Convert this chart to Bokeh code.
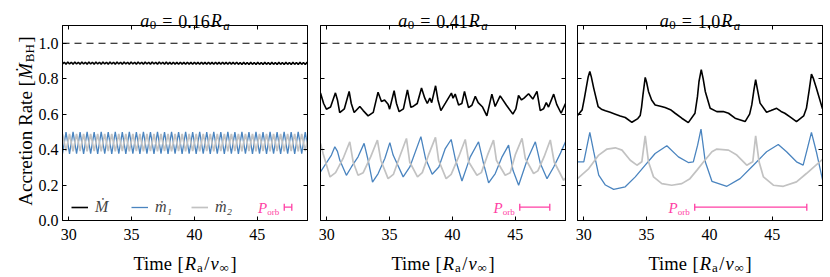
import math
import numpy as np
from bokeh.plotting import figure
from bokeh.layouts import row
from bokeh.models import (Range1d, LinearAxis, Span, Label, Whisker, TeeHead,
                          ColumnDataSource, FixedTicker, Legend, LegendItem)
from bokeh.core.properties import value
from bokeh.embed import file_html
from bokeh.resources import INLINE

# ------------------------------------------------------------------ data
a0_labels = ["0.16", "0.41", "1.0"]
x_ticks = [30, 35, 40, 45]
y_ticks = [0.0, 0.2, 0.4, 0.6, 0.8, 1.0]
y_tick_labels = ["0.0", "0.2", "0.4", "0.6", "0.8", "1.0"]
mdot_bh_ref = 1.0
legend_labels = ["\u1E40", "\u1E41\u2081", "\u1E41\u2082"]

# orbital period bars (start, end) and height
porb_start = [47.15, 45.36, 38.83]
porb_end = [47.75, 47.75, 47.75]
porb_y = 0.075

# ---- panel 1 (a0 = 0.16 Ra): regular sample grid
t1_m = np.round(29.5 + 0.28 * np.arange(71), 3)
t1_M = np.round(29.5 + 0.14 * np.arange(141), 3)
m1_p1 = [
    0.377, 0.499, 0.376, 0.500, 0.377, 0.499, 0.376, 0.500, 0.377, 0.499,
    0.376, 0.500, 0.377, 0.499, 0.376, 0.500, 0.377, 0.499, 0.376, 0.500,
    0.377, 0.499, 0.376, 0.500, 0.377, 0.499, 0.376, 0.500, 0.377, 0.499,
    0.376, 0.500, 0.377, 0.499, 0.376, 0.500, 0.377, 0.499, 0.376, 0.500,
    0.377, 0.499, 0.376, 0.500, 0.377, 0.499, 0.376, 0.500, 0.377, 0.499,
    0.376, 0.500, 0.377, 0.499, 0.376, 0.500, 0.377, 0.499, 0.376, 0.500,
    0.377, 0.499, 0.376, 0.500, 0.377, 0.499, 0.376, 0.500, 0.377, 0.499,
    0.376]
m2_p1 = [
    0.489, 0.391, 0.488, 0.390, 0.489, 0.391, 0.488, 0.390, 0.489, 0.391,
    0.488, 0.390, 0.489, 0.391, 0.488, 0.390, 0.489, 0.391, 0.488, 0.390,
    0.489, 0.391, 0.488, 0.390, 0.489, 0.391, 0.488, 0.390, 0.489, 0.391,
    0.488, 0.390, 0.489, 0.391, 0.488, 0.390, 0.489, 0.391, 0.488, 0.390,
    0.489, 0.391, 0.488, 0.390, 0.489, 0.391, 0.488, 0.390, 0.489, 0.391,
    0.488, 0.390, 0.489, 0.391, 0.488, 0.390, 0.489, 0.391, 0.488, 0.390,
    0.489, 0.391, 0.488, 0.390, 0.489, 0.391, 0.488, 0.390, 0.489, 0.391,
    0.488]
mdot_p1 = [
    0.883, 0.893, 0.882, 0.894, 0.883, 0.893, 0.882, 0.894, 0.883, 0.893,
    0.882, 0.894, 0.883, 0.893, 0.882, 0.894, 0.883, 0.893, 0.882, 0.894,
    0.883, 0.893, 0.882, 0.894, 0.883, 0.893, 0.882, 0.894, 0.883, 0.893,
    0.882, 0.894, 0.883, 0.893, 0.882, 0.894, 0.883, 0.893, 0.882, 0.894,
    0.883, 0.893, 0.882, 0.894, 0.883, 0.893, 0.882, 0.894, 0.883, 0.893,
    0.882, 0.894, 0.883, 0.893, 0.882, 0.894, 0.883, 0.893, 0.882, 0.894,
    0.882, 0.892, 0.881, 0.893, 0.882, 0.892, 0.881, 0.893, 0.882, 0.892,
    0.881, 0.893, 0.882, 0.892, 0.881, 0.893, 0.882, 0.892, 0.881, 0.893,
    0.882, 0.892, 0.881, 0.893, 0.882, 0.892, 0.881, 0.893, 0.882, 0.892,
    0.881, 0.893, 0.882, 0.892, 0.881, 0.893, 0.882, 0.892, 0.881, 0.893,
    0.881, 0.891, 0.880, 0.892, 0.881, 0.891, 0.880, 0.892, 0.881, 0.891,
    0.880, 0.892, 0.881, 0.891, 0.880, 0.892, 0.881, 0.891, 0.880, 0.892,
    0.881, 0.891, 0.880, 0.892, 0.881, 0.891, 0.880, 0.892, 0.881, 0.891,
    0.880, 0.892, 0.881, 0.891, 0.880, 0.892, 0.881, 0.891, 0.880, 0.892,
    0.881]

# ---- panel 2 (a0 = 0.41 Ra)
t2_M = [29.5, 29.75, 29.97, 30.3, 30.69, 30.85, 31.03, 31.4, 31.78, 31.95,
        32.18, 32.63, 32.9, 33.29, 33.7, 34.08, 34.35, 34.6, 34.88, 35.0,
        35.36, 35.55, 35.76, 36.1, 36.42, 36.69, 36.9, 37.2, 37.54, 37.8,
        38.0, 38.2, 38.35, 38.66, 38.85, 39.08, 39.44, 39.92, 40.05, 40.22,
        40.49, 40.75, 40.96, 41.28, 41.55, 41.82, 42.05, 42.4, 42.74, 43.14,
        43.4, 43.8, 44.3, 44.81, 45.05, 45.26, 45.5, 45.7, 46.06, 46.4,
        46.73, 46.99, 47.25, 47.47, 47.65, 48.06, 48.3, 48.65, 49.0]
mdot_p2 = [0.719, 0.66, 0.628, 0.64, 0.72, 0.68, 0.609, 0.63, 0.728, 0.66,
           0.609, 0.643, 0.62, 0.59, 0.61, 0.724, 0.671, 0.68, 0.656, 0.628,
           0.732, 0.66, 0.614, 0.63, 0.737, 0.639, 0.645, 0.66, 0.747, 0.69,
           0.66, 0.69, 0.665, 0.76, 0.68, 0.62, 0.662, 0.719, 0.69, 0.713,
           0.652, 0.66, 0.728, 0.637, 0.65, 0.70, 0.665, 0.64, 0.59, 0.713,
           0.643, 0.703, 0.65, 0.60, 0.63, 0.705, 0.68, 0.69, 0.715, 0.685,
           0.728, 0.62, 0.63, 0.665, 0.64, 0.713, 0.655, 0.605, 0.66]
t2_1 = [29.5, 30.37, 30.64, 30.85, 31.04, 31.56, 31.96, 32.49, 32.97, 33.29,
        33.64, 34.09, 34.62, 35.02, 35.28, 36.08, 36.61, 37.49, 37.86, 38.39,
        38.92, 39.43, 39.9, 40.22, 40.76, 41.42, 42.08, 42.48, 42.88, 43.41,
        43.95, 44.47, 44.82, 45.27, 45.94, 46.6, 47.0, 47.53, 48.06, 48.6, 49.0]
m1_p2 = [0.274, 0.369, 0.416, 0.39, 0.34, 0.255, 0.302, 0.359, 0.435, 0.34,
         0.217, 0.265, 0.35, 0.439, 0.369, 0.246, 0.302, 0.473, 0.35, 0.261,
         0.302, 0.406, 0.457, 0.35, 0.223, 0.359, 0.444, 0.321, 0.212, 0.265,
         0.359, 0.425, 0.283, 0.199, 0.34, 0.444, 0.321, 0.236, 0.302, 0.38, 0.444]
t2_2 = [29.5, 29.7, 30.26, 30.7, 31.3, 31.83, 32.1, 32.49, 32.9, 33.5,
        34.03, 34.3, 34.88, 35.3, 35.8, 36.34, 36.6, 37.22, 37.6, 38.1,
        38.65, 38.9, 39.5, 39.9, 40.5, 41.02, 41.3, 41.95, 42.3, 42.8,
        43.27, 43.5, 44.2, 44.6, 45.0, 45.54, 45.8, 46.46, 46.8, 47.3,
        47.79, 48.1, 48.85, 49.0]
m2_p2 = [0.435, 0.38, 0.246, 0.27, 0.35, 0.444, 0.33, 0.255, 0.27, 0.36,
         0.454, 0.34, 0.236, 0.26, 0.36, 0.463, 0.33, 0.246, 0.27, 0.37,
         0.469, 0.34, 0.236, 0.26, 0.36, 0.457, 0.33, 0.255, 0.27, 0.37,
         0.454, 0.34, 0.255, 0.27, 0.37, 0.463, 0.35, 0.265, 0.28, 0.36,
         0.454, 0.33, 0.227, 0.24]

# ---- panel 3 (a0 = 1.0 Ra)
t3_M = [29.5, 29.87, 30.05, 30.19, 30.35, 30.48, 30.6, 30.79, 31.14, 31.4,
        31.72, 32.1, 32.51, 32.9, 33.3, 33.83, 34.3, 34.49, 34.6, 34.71,
        34.89, 35.0, 35.15, 35.4, 35.68, 36.1, 36.47, 36.9, 37.27, 37.8,
        38.32, 38.85, 39.05, 39.17, 39.35, 39.5, 39.67, 40.06, 40.59, 41.1,
        41.52, 42.04, 42.84, 43.2, 43.37, 43.55, 43.68, 43.82, 44.03, 44.55,
        44.9, 45.35, 45.7, 46.0, 46.5, 46.93, 47.5, 47.72, 47.95, 48.12,
        48.28, 48.51, 49.0]
mdot_p3 = [0.592, 0.624, 0.69, 0.747, 0.81, 0.841, 0.81, 0.747, 0.643, 0.628,
           0.619, 0.61, 0.6, 0.59, 0.581, 0.554, 0.575, 0.592, 0.64, 0.709,
           0.807, 0.78, 0.728, 0.68, 0.652, 0.645, 0.637, 0.625, 0.605, 0.577,
           0.552, 0.605, 0.7, 0.784, 0.851, 0.8, 0.728, 0.633, 0.614, 0.615,
           0.605, 0.577, 0.558, 0.6, 0.652, 0.74, 0.794, 0.74, 0.662, 0.611,
           0.62, 0.633, 0.615, 0.605, 0.58, 0.558, 0.59, 0.633, 0.74, 0.826,
           0.8, 0.747, 0.63]
t3_1 = [29.5, 30.0, 30.2, 30.48, 30.79, 31.19, 31.72, 32.38, 33.3, 34.1, 34.89,
        35.68, 36.61, 37.53, 38.32, 38.72, 39.06, 39.33, 39.67, 40.2, 41.39,
        42.44, 43.5, 44.55, 45.48, 46.14, 46.93, 47.46, 47.8, 48.12, 48.51, 49.0]
m1_p3 = [0.331, 0.331, 0.4, 0.497, 0.388, 0.256, 0.2, 0.176, 0.19, 0.246, 0.312,
         0.378, 0.422, 0.359, 0.327, 0.331, 0.425, 0.516, 0.331, 0.221, 0.193,
         0.236, 0.312, 0.388, 0.429, 0.388, 0.331, 0.312, 0.407, 0.497, 0.388, 0.23]
t3_2 = [29.5, 30.4, 31.19, 31.85, 32.51, 33.04, 33.7, 34.23, 34.62, 34.89,
        35.15, 35.55, 36.21, 37.0, 37.8, 38.45, 39.01, 39.54, 40.2, 40.59,
        41.52, 42.18, 42.97, 43.45, 43.68, 43.95, 44.3, 45.09, 45.88, 46.93,
        47.72, 49.0]
m2_p3 = [0.236, 0.293, 0.369, 0.403, 0.41, 0.397, 0.34, 0.312, 0.331, 0.477,
         0.331, 0.246, 0.208, 0.199, 0.208, 0.236, 0.284, 0.331, 0.388, 0.403,
         0.397, 0.369, 0.312, 0.331, 0.477, 0.331, 0.246, 0.199, 0.193, 0.218,
         0.265, 0.345]

series = [
    ((t1_M, mdot_p1), (t1_m, m1_p1), (t1_m, m2_p1)),
    ((t2_M, mdot_p2), (t2_1, m1_p2), (t2_2, m2_p2)),
    ((t3_M, mdot_p3), (t3_1, m1_p3), (t3_2, m2_p3)),
]

# ------------------------------------------------------------------ style
FONT = "Liberation Serif"
BLACK = "#000000"
BLUE = "#4a84bf"
GRAY = "#c2c2c2"
PINK = "#ff3fa4"
X0, X1 = 29.5, 49.0
Y0, Y1 = 0.0, 1.1
XMID = (X0 + X1) / 2

W_REG = {' ': .25, '.': .25, '=': .564, '[': .333, ']': .333, '/': .278,
         'A': .722, 'B': .667, 'H': .722, 'R': .667, 'T': .611, 'a': .444,
         'b': .5, 'c': .444, 'e': .444, 'i': .278, 'm': .778, 'n': .5,
         'o': .5, 'r': .333, 't': .278, '\u221e': .713}
W_IT = {'a': .5, 'R': .611, 'v': .444, 'P': .611, '\u1E40': .833}


def tw(s, size, italic):
    tab = W_IT if italic else W_REG
    return sum(tab.get(ch, 0.5) for ch in s) * size


def compose(p, x, y, pieces, base, rotate=False, center=0.0):
    """pieces: (text, size, italic, drop, gap); base: pixel offset of baseline."""
    total = sum(tw(t, s, it) + g for t, s, it, d, g in pieces)
    pos = -total / 2 + center
    for t, s, it, d, g in pieces:
        if rotate:
            xo, yo, ang = base + d, -pos, math.pi / 2
        else:
            xo, yo, ang = pos, base + d, 0.0
        p.text(x=[x], y=[y], text=[t], x_offset=xo, y_offset=yo, angle=ang,
               text_font=value(FONT), text_font_size=value(f"{s}px"),
               text_font_style=value("italic" if it else "normal"),
               text_color="black", text_align=value("left"),
               text_baseline=value("alphabetic"), level="overlay")
        pos += tw(t, s, it) + g


def style_axis(ax, show_labels):
    ax.major_tick_in = 4
    ax.major_tick_out = 0
    ax.minor_tick_in = 0
    ax.minor_tick_out = 0
    ax.axis_line_color = "black"
    ax.major_tick_line_color = "black"
    ax.major_label_text_font = FONT
    if show_labels:
        ax.major_label_text_color = "black"
        ax.major_label_text_font_size = "16px"
    else:
        ax.major_label_text_color = None
        ax.major_label_text_font_size = "1px"
        ax.major_label_standoff = 0


sizes = [(314, 62, 7), (257, 6, 6), (257, 6, 6)]
figs = []
for i in range(3):
    w, bl, br = sizes[i]
    p = figure(width=w, height=274,
               x_range=Range1d(X0, X1), y_range=Range1d(Y0, Y1),
               output_backend="svg", toolbar_location=None,
               min_border_left=bl, min_border_right=br,
               min_border_top=25, min_border_bottom=54,
               background_fill_color="white", border_fill_color="white")
    p.grid.visible = False
    p.outline_line_color = "black"
    p.outline_line_width = 1

    p.xaxis.ticker = FixedTicker(ticks=x_ticks)
    p.yaxis.ticker = FixedTicker(ticks=y_ticks)
    p.yaxis.major_label_overrides = {v: s for v, s in zip(y_ticks, y_tick_labels)}
    for ax in p.xaxis:
        style_axis(ax, True)
        ax.major_label_standoff = 8
    for ax in p.yaxis:
        style_axis(ax, i == 0)
        if i == 0:
            ax.major_label_standoff = 4
    top = LinearAxis(ticker=FixedTicker(ticks=x_ticks))
    right = LinearAxis(ticker=FixedTicker(ticks=y_ticks))
    style_axis(top, False)
    style_axis(right, False)
    p.add_layout(top, "above")
    p.add_layout(right, "right")

    p.add_layout(Span(location=mdot_bh_ref, dimension="width", line_color="black",
                      line_width=1.2, line_dash="7 5"))

    (tM, vM), (ta, va), (tb, vb) = series[i]
    r0 = p.line(tM, vM, line_color=BLACK, line_width=1.6)
    r1 = p.line(ta, va, line_color=BLUE, line_width=1.3)
    r2 = p.line(tb, vb, line_color=GRAY, line_width=1.7)

    if i == 0:
        leg = Legend(items=[LegendItem(label=legend_labels[0], renderers=[r0]),
                            LegendItem(label=legend_labels[1], renderers=[r1]),
                            LegendItem(label=legend_labels[2], renderers=[r2])],
                     location=(6, 0), orientation="horizontal",
                     background_fill_alpha=0, border_line_alpha=0,
                     label_text_font=FONT, label_text_font_style="italic",
                     label_text_font_size="16px", glyph_width=17,
                     label_standoff=7, spacing=16, padding=3, margin=0)
        p.add_layout(leg, "center")

    # orbital period bar
    src = ColumnDataSource(dict(base=[porb_y], lower=[porb_start[i]], upper=[porb_end[i]]))
    p.add_layout(Whisker(source=src, base="base", lower="lower", upper="upper",
                         dimension="width", line_color=PINK, line_width=1.3,
                         lower_head=TeeHead(size=7, line_color=PINK, line_width=1.3),
                         upper_head=TeeHead(size=7, line_color=PINK, line_width=1.3)))
    p.add_layout(Label(x=porb_start[i], y=porb_y, x_offset=-17, y_offset=-1,
                       text="P", text_font=FONT, text_font_size="15px",
                       text_font_style="italic", text_color=PINK,
                       text_align="right", text_baseline="alphabetic"))
    p.add_layout(Label(x=porb_start[i], y=porb_y, x_offset=-5, y_offset=-5,
                       text="orb", text_font=FONT, text_font_size="9px",
                       text_color=PINK, text_align="right",
                       text_baseline="alphabetic"))

    # title  (y_offset positive = down for text glyphs)
    compose(p, XMID, Y1, [("a", 18, True, 0, 0.5), ("0", 13, False, 4, 6),
                          ("=", 18, False, 0, 6), (a0_labels[i], 18, False, 0, 1),
                          ("R", 18, True, 0, 1.5), ("a", 13, True, 4, 0)],
            -4.5)
    # x-axis label
    compose(p, XMID, Y0, [("Time", 18.5, False, 0, 5), ("[", 18.5, False, 0, 1),
                          ("R", 18.5, True, 0, 1), ("a", 13, False, 4, 1.5),
                          ("/", 18.5, False, 0, 1), ("v", 18.5, True, 0, 1),
                          ("\u221e", 13, False, 4, 1.5), ("]", 18.5, False, 0, 0)],
            43)
    if i == 0:
        compose(p, X0, (Y0 + Y1) / 2,
                [("Accretion Rate [", 19, False, 0, 1), ("\u1E40", 19, True, 0, 1),
                 ("BH", 13, False, 4, 1.5), ("]", 19, False, 0, 0)],
                -37, rotate=True, center=2)
    figs.append(p)

layout = row(*figs, spacing=0)
open("out.html", "w").write(file_html(layout, INLINE))
